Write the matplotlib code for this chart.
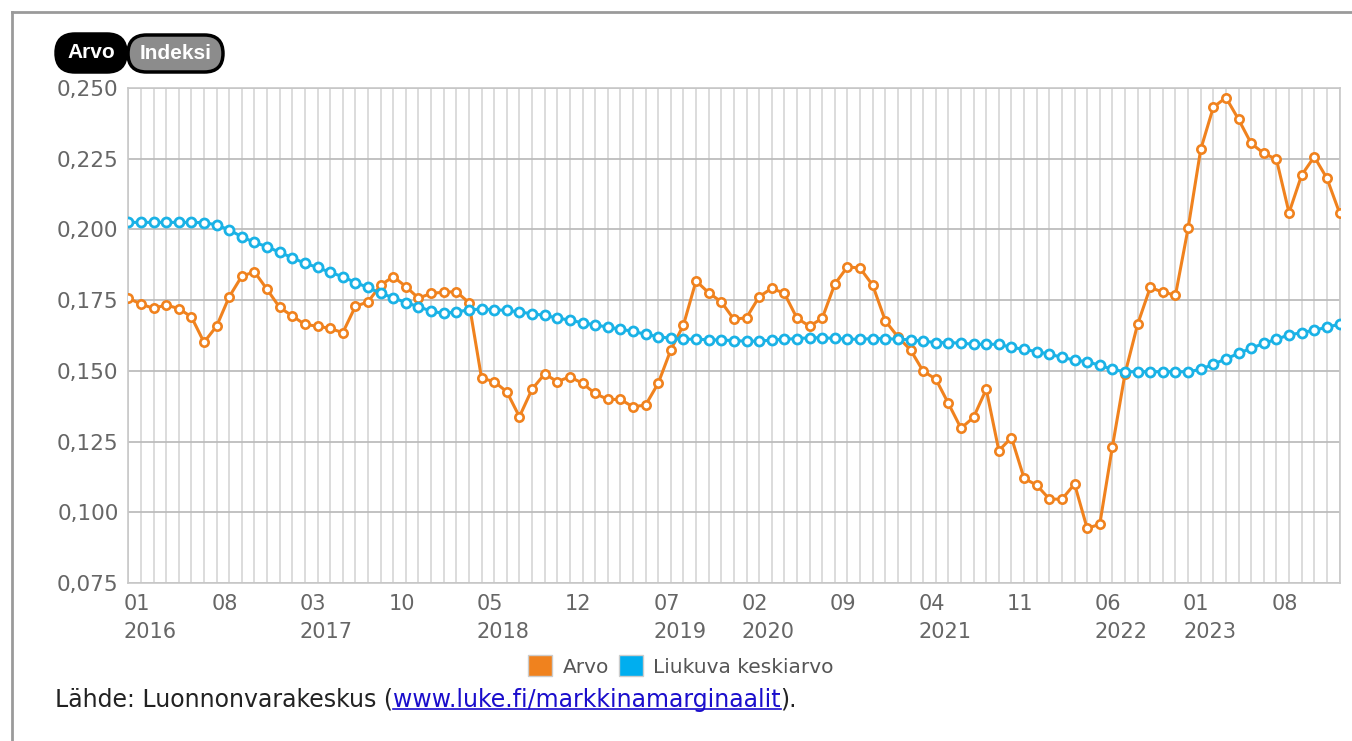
import numpy as np
import matplotlib

matplotlib.use("Agg")
import matplotlib.pyplot as plt
from matplotlib.patches import FancyBboxPatch, Patch
from matplotlib.lines import Line2D
from matplotlib.ticker import FuncFormatter
from matplotlib.transforms import ScaledTranslation

# monthly values 01/2016 .. 01/2024
arvo = [
    0.1757, 0.1736, 0.1721, 0.1733, 0.1720, 0.1691, 0.1601, 0.1658, 0.1762, 0.1835,
    0.1850, 0.1788, 0.1724, 0.1694, 0.1664, 0.1658, 0.1650, 0.1635, 0.1728, 0.1744,
    0.1803, 0.1833, 0.1798, 0.1757, 0.1774, 0.1778, 0.1780, 0.1741, 0.1474, 0.1462,
    0.1426, 0.1338, 0.1435, 0.1489, 0.1462, 0.1479, 0.1456, 0.1420, 0.1399, 0.1399,
    0.1373, 0.1379, 0.1456, 0.1574, 0.1662, 0.1818, 0.1776, 0.1744, 0.1682, 0.1688,
    0.1762, 0.1792, 0.1774, 0.1686, 0.1658, 0.1686, 0.1807, 0.1868, 0.1863, 0.1803,
    0.1677, 0.1620, 0.1574, 0.1499, 0.1471, 0.1385, 0.1297, 0.1336, 0.1435, 0.1218,
    0.1264, 0.1120, 0.1096, 0.1047, 0.1046, 0.1100, 0.0943, 0.0958, 0.1232, 0.1490,
    0.1665, 0.1795, 0.1778, 0.1768, 0.2004, 0.2283, 0.2432, 0.2466, 0.2389, 0.2304,
    0.2269, 0.2248, 0.2059, 0.2192, 0.2257, 0.2181, 0.2059,
]
keskiarvo = [
    0.2025, 0.2025, 0.2025, 0.2025, 0.2025, 0.2025, 0.2024, 0.2016, 0.1998, 0.1974,
    0.1954, 0.1939, 0.1919, 0.1900, 0.1880, 0.1866, 0.1848, 0.1833, 0.1812, 0.1795,
    0.1774, 0.1759, 0.1741, 0.1727, 0.1711, 0.1703, 0.1709, 0.1715, 0.1719, 0.1716,
    0.1714, 0.1708, 0.1702, 0.1696, 0.1687, 0.1679, 0.1670, 0.1662, 0.1655, 0.1647,
    0.1640, 0.1629, 0.1621, 0.1615, 0.1612, 0.1612, 0.1610, 0.1609, 0.1607, 0.1605,
    0.1605, 0.1609, 0.1612, 0.1614, 0.1617, 0.1617, 0.1615, 0.1612, 0.1612, 0.1614,
    0.1614, 0.1612, 0.1610, 0.1605, 0.1600, 0.1600, 0.1598, 0.1594, 0.1594, 0.1594,
    0.1583, 0.1576, 0.1568, 0.1559, 0.1548, 0.1538, 0.1532, 0.1520, 0.1505, 0.1497,
    0.1497, 0.1497, 0.1497, 0.1497, 0.1497, 0.1505, 0.1524, 0.1542, 0.1562, 0.1580,
    0.1597, 0.1612, 0.1627, 0.1635, 0.1644, 0.1654, 0.1665,
]
tick_labels = ["01\n2016", "08", "03\n2017", "10", "05\n2018", "12", "07\n2019",
               "02\n2020", "09", "04\n2021", "11", "06\n2022", "01\n2023", "08"]
tick_step = 7
y_ticks = [0.075, 0.100, 0.125, 0.150, 0.175, 0.200, 0.225, 0.250]

ORANGE = "#F0821E"
BLUE = "#1AB2E6"
W, H = 1352, 741

fig = plt.figure(figsize=(W / 100, H / 100), dpi=100)
ax = fig.add_axes([128.3 / W, 1 - 583 / H, (1339.5 - 128.3) / W, (583 - 88) / H])

x = np.arange(len(arvo))
ax.plot(x, arvo, "-o", color=ORANGE, lw=2.2, ms=6, mfc="white", mec=ORANGE, mew=1.9, zorder=3)
ax.plot(x, keskiarvo, "-o", color=BLUE, lw=2.2, ms=6.5, mfc="white", mec=BLUE, mew=2.0, zorder=4)

ax.set_xlim(0, len(arvo) - 1)
ax.set_ylim(0.075, 0.250)
ax.set_yticks(y_ticks)
ax.yaxis.set_major_formatter(FuncFormatter(lambda v, _: f"{v:.3f}".replace(".", ",")))
ax.set_xticks(x, minor=True)
ax.set_xticks(x[::tick_step][:len(tick_labels)], tick_labels)
ax.grid(True, which="minor", axis="x", color="#d6d6d6", lw=1.2)
ax.grid(True, which="major", axis="x", color="#d6d6d6", lw=1.2)
ax.grid(True, which="major", axis="y", color="#b8b8b8", lw=1.2)
ax.set_axisbelow(True)
ax.tick_params(which="both", length=0)
ax.tick_params(axis="y", pad=7, labelsize=15.5, labelcolor="#666666")
ax.tick_params(axis="x", pad=8, labelsize=15, labelcolor="#666666")
for lab in ax.get_xticklabels():
    lab.set_horizontalalignment("left")
    lab.set_linespacing(1.5)
    lab.set_transform(lab.get_transform() + ScaledTranslation(-5 / 100, 0, fig.dpi_scale_trans))
for s in ax.spines.values():
    s.set_color("#c8c8c8")
    s.set_linewidth(1.2)

# outer frame (top and left edges visible)
fig.add_artist(Line2D([12 / W, 12 / W], [0, 1 - 11.5 / H], color="#9a9a9a", lw=2))
fig.add_artist(Line2D([12 / W, 1], [1 - 11.5 / H, 1 - 11.5 / H], color="#9a9a9a", lw=2))

# Arvo / Indeksi buttons
def button(x0, x1, y0, y1, face, text):
    h = (y1 - y0) / H
    p = FancyBboxPatch((x0 / W, 1 - y1 / H), (x1 - x0) / W, h,
                       boxstyle=f"round,pad=0,rounding_size={h * 0.5 * H / W}",
                       transform=fig.transFigure, facecolor=face, edgecolor="black",
                       lw=2.5, mutation_aspect=W / H)
    fig.add_artist(p)
    fig.text((x0 + x1) / 2 / W, 1 - (y0 + y1) / 2 / H, text, ha="center", va="center",
             color="white", fontsize=15, family="Liberation Sans", fontweight="bold")

button(56, 126, 34, 72, "black", "Arvo")
button(128, 223, 35, 72, "#8c8c8c", "Indeksi")

# legend
handles = [Patch(facecolor=ORANGE, edgecolor="#cccccc", label="Arvo"),
           Patch(facecolor="#00AEEF", edgecolor="#cccccc", label="Liukuva keskiarvo")]
leg = fig.legend(handles=handles, loc="center", bbox_to_anchor=(681 / W, 1 - 666 / H), ncol=2,
                 frameon=False, fontsize=14.5, handlelength=1.2, handleheight=1.2,
                 handletextpad=0.5, columnspacing=0.5, borderaxespad=0)
for t in leg.get_texts():
    t.set_color("#555555")

# source line
SRC_FS = 17
t1 = fig.text(55 / W, 1 - 700 / H, "Lähde: Luonnonvarakeskus (", fontsize=SRC_FS,
              color="#222222", va="center", ha="left")
fig.canvas.draw()
r = fig.canvas.get_renderer()
b1 = t1.get_window_extent(r)
t2 = fig.text(b1.x1 / W, 1 - 700 / H, "www.luke.fi/markkinamarginaalit", fontsize=SRC_FS,
              color="#1a0dcc", va="center", ha="left")
b2 = t2.get_window_extent(r)
fig.text(b2.x1 / W, 1 - 700 / H, ").", fontsize=SRC_FS, color="#222222", va="center", ha="left")
uy = (b2.y0 + 3) / H
fig.add_artist(Line2D([b2.x0 / W, b2.x1 / W], [uy, uy], color="#1a0dcc", lw=1.2))

fig.savefig("out.png", dpi=100)
